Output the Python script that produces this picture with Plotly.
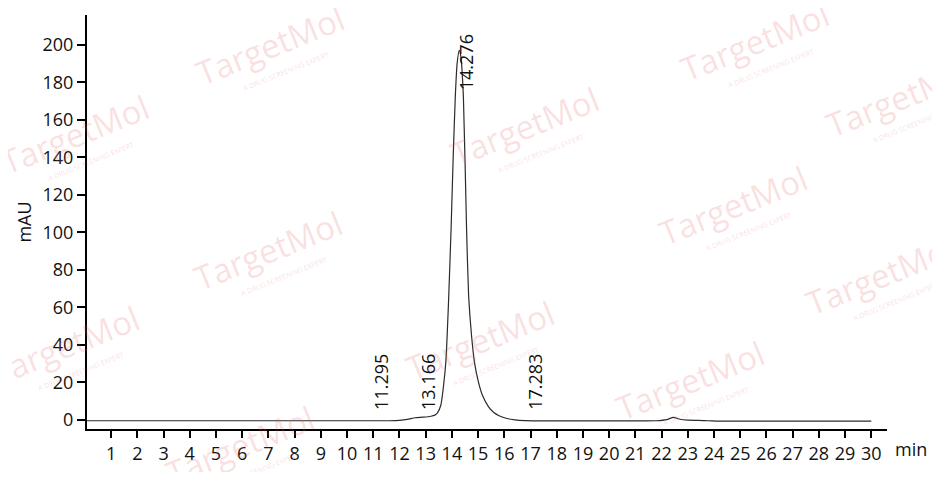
import plotly.graph_objects as go

# retention time (min) and absorbance (mAU)
time_min = [0, 1, 2, 3, 4, 5, 6, 7, 8, 9, 10, 11, 11.6, 12.0, 12.3, 12.6, 12.9, 13.2,
            13.35, 13.45, 13.58, 13.68, 13.77, 13.87, 13.97, 14.05, 14.13, 14.2, 14.28,
            14.34, 14.44, 14.56, 14.64, 14.75, 14.86, 15.0, 15.17, 15.4, 15.6, 15.8,
            16.1, 16.4, 16.8, 17.5, 18, 19, 20, 21, 21.8, 22.2, 22.45, 22.7, 23.0,
            23.4, 23.8, 24.2, 25, 26, 27, 28, 29, 30]
mau = [-0.4, -0.4, -0.4, -0.4, -0.4, -0.4, -0.4, -0.4, -0.4, -0.4, -0.4, -0.4, -0.4,
       -0.2, 0.3, 1.2, 1.5, 2.0,
       2.6, 3.8, 8.0, 18.0, 31.0, 62.0, 102.0, 140.0, 172.0, 190.0, 197.0,
       194.0, 172.0, 102.0, 66.0, 45.0, 31.0, 21.0, 13.0, 7.0, 4.0, 2.3,
       0.8, 0.1, -0.3, -0.5, -0.5, -0.5, -0.5, -0.5, -0.4, 0.2, 1.4, 0.4, -0.1,
       -0.2, -0.4, -0.6, -0.6, -0.6, -0.6, -0.6, -0.6, -0.6]

peak_rt = [11.295, 13.166, 14.276, 17.283]
peak_label_y = [4.3, 4.3, 174.7, 4.3]
peak_label_shift = [0, -2, 7, -3]

x_ticks = list(range(1, 31))
y_ticks = [0, 20, 40, 60, 80, 100, 120, 140, 160, 180, 200]

font = "Open Sans"

fig = go.Figure()
fig.add_trace(go.Scatter(
    x=time_min, y=mau, mode="lines",
    line=dict(color="#2b2b2b", width=1.2, shape="spline", smoothing=0.5),
    hoverinfo="x+y", showlegend=False,
))

annotations = []

# faint TargetMol watermark tiles (page pixel centres converted to paper coords)
wm_px = [(270, 45), (755, 42), (75, 135), (525, 127), (900, 97), (268, 250),
         (733, 205), (880, 275), (65, 345), (480, 340), (690, 380), (240, 445)]
for px, py in wm_px:
    annotations.append(dict(
        x=(px - 87) / 800, y=(429 - py) / 414, xref="paper", yref="paper",
        xanchor="center", yanchor="middle",
        text="TargetMol", textangle=-22, showarrow=False,
        font=dict(family=font, size=33, color="rgba(230,100,100,0.2)"),
    ))
    annotations.append(dict(
        x=(px - 87 + 16) / 800, y=(429 - py - 26) / 414, xref="paper", yref="paper",
        xanchor="center", yanchor="middle",
        text="A DRUG SCREENING EXPERT", textangle=-22, showarrow=False,
        font=dict(family=font, size=7, color="rgba(230,100,100,0.22)"),
    ))

for rt, ly, sh in zip(peak_rt, peak_label_y, peak_label_shift):
    annotations.append(dict(
        x=rt, y=ly, xref="x", yref="y", text=f"{rt:.3f}", textangle=-90,
        showarrow=False, xanchor="center", yanchor="bottom", xshift=sh,
        font=dict(family=font, size=18, color="#111"),
    ))

# "min" unit after the last tick label
annotations.append(dict(
    x=1.008, y=-0.049, xref="paper", yref="paper", text="min", showarrow=False,
    xanchor="left", yanchor="middle", font=dict(family=font, size=18, color="#111"),
))

fig.update_layout(
    width=924, height=464,
    margin=dict(l=79, r=45, t=7, b=43),
    paper_bgcolor="white", plot_bgcolor="white",
    font=dict(family=font, size=18, color="#111"),
    annotations=annotations,
    xaxis=dict(
        range=[0.08, 30.6], tickvals=x_ticks, ticks="outside", ticklen=7,
        tickwidth=1.5, tickcolor="black", showline=True, linecolor="black",
        linewidth=2, showgrid=False, zeroline=False,
        tickfont=dict(family=font, size=18),
    ),
    yaxis=dict(
        range=[-4.8, 215.8], tickvals=y_ticks, ticks="outside", ticklen=8,
        tickwidth=1.5, tickcolor="black", showline=True, linecolor="black",
        linewidth=2, showgrid=False, zeroline=False,
        title=dict(text="mAU", font=dict(family=font, size=18), standoff=6),
        tickfont=dict(family=font, size=18),
    ),
)

fig.write_html("out.html")
